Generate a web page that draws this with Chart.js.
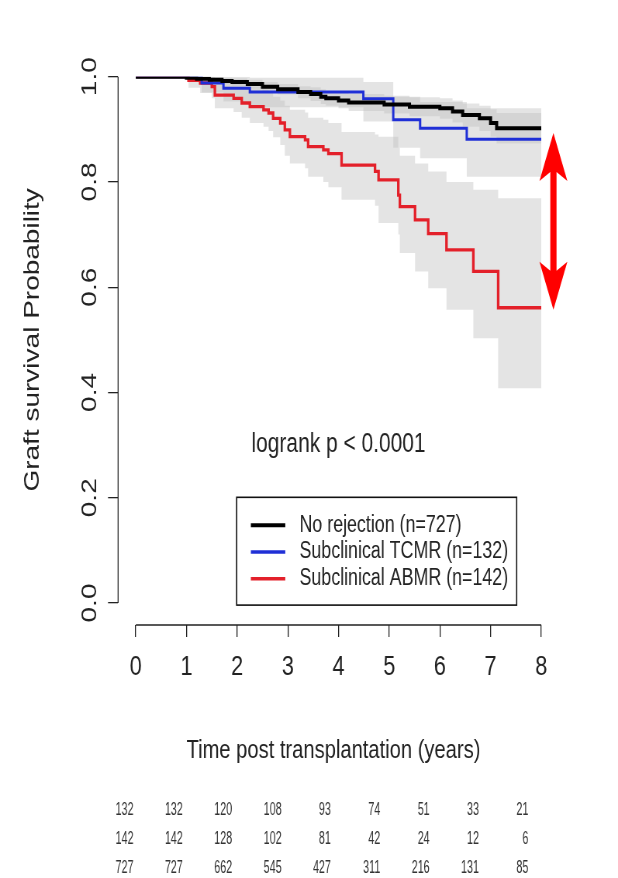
<!DOCTYPE html>
<html lang="en">
<head>
  <meta charset="UTF-8" />
  <title>Graft survival</title>
  <script src="https://cdn.jsdelivr.net/npm/chart.js"></script>
  <style>
    html, body { margin: 0; padding: 0; background: #fff; }
  </style>
</head>
<body>
  <!-- drawn wider and squeezed by css, the source picture is squeezed the same way -->
  <canvas id="km" width="797" height="878" style="width:618px;height:878px;display:block"></canvas>

  <script>
    const FONT = "'Liberation Sans', Arial, Helvetica, sans-serif";
    const INK = '#222';

    const xTicks = [0, 1, 2, 3, 4, 5, 6, 7, 8];
    const yTicks = [0, 0.2, 0.4, 0.6, 0.8, 1.0];

    const groupLabels = ['No rejection (n=727)', 'Subclinical TCMR (n=132)', 'Subclinical ABMR (n=142)'];
    const groupColors = ['#000000', '#1f2fd6', '#e3202a'];

    // No rejection
    const noRejTime  = [0, 1.0, 1.2, 1.45, 1.7, 1.9, 2.2, 2.5, 2.8, 3.2, 3.45, 3.65, 3.75, 4.0, 4.2, 4.9, 5.4, 6.0, 6.25, 6.45, 6.78, 7.0, 7.12, 8.0];
    const noRejSurv  = [1.0, 0.998, 0.996, 0.994, 0.992, 0.990, 0.986, 0.981, 0.976, 0.971, 0.967, 0.962, 0.959, 0.955, 0.951, 0.947, 0.943, 0.940, 0.934, 0.927, 0.921, 0.912, 0.902, 0.902];
    const noRejLower = [1.0, 0.995, 0.992, 0.989, 0.986, 0.983, 0.978, 0.972, 0.966, 0.959, 0.954, 0.948, 0.945, 0.940, 0.935, 0.930, 0.925, 0.920, 0.913, 0.905, 0.897, 0.886, 0.873, 0.873];
    const noRejUpper = [1.0, 1.0, 1.0, 0.999, 0.998, 0.997, 0.994, 0.990, 0.986, 0.982, 0.980, 0.976, 0.973, 0.970, 0.967, 0.964, 0.961, 0.959, 0.955, 0.949, 0.945, 0.938, 0.931, 0.931];

    // Subclinical TCMR
    const tcmrTime  = [0, 1.3, 1.73, 2.25, 4.49, 5.08, 5.61, 6.53, 8.0];
    const tcmrSurv  = [1.0, 0.988, 0.978, 0.971, 0.958, 0.918, 0.902, 0.881, 0.881];
    const tcmrLower = [1.0, 0.970, 0.953, 0.942, 0.915, 0.865, 0.845, 0.810, 0.810];
    const tcmrUpper = [1.0, 1.0, 1.0, 0.998, 0.990, 0.962, 0.952, 0.940, 0.940];

    // Subclinical ABMR
    const abmrTime  = [0, 1.04, 1.27, 1.5, 1.56, 1.93, 2.09, 2.25, 2.52, 2.62, 2.71, 2.85, 2.94, 3.04, 3.34, 3.4, 3.7, 3.8, 4.06, 4.72, 4.79, 5.18, 5.21, 5.51, 5.77, 6.13, 6.66, 7.15, 8.0];
    const abmrSurv  = [1.0, 0.993, 0.988, 0.981, 0.965, 0.959, 0.950, 0.943, 0.937, 0.931, 0.921, 0.912, 0.899, 0.886, 0.880, 0.867, 0.861, 0.854, 0.832, 0.820, 0.804, 0.775, 0.753, 0.728, 0.702, 0.671, 0.630, 0.561, 0.561];
    const abmrLower = [1.0, 0.979, 0.969, 0.959, 0.940, 0.933, 0.922, 0.912, 0.905, 0.897, 0.885, 0.870, 0.850, 0.835, 0.826, 0.810, 0.800, 0.790, 0.766, 0.755, 0.722, 0.700, 0.665, 0.630, 0.598, 0.557, 0.503, 0.408, 0.408];
    const abmrUpper = [1.0, 1.0, 1.0, 1.0, 0.995, 0.990, 0.985, 0.980, 0.975, 0.970, 0.962, 0.955, 0.945, 0.937, 0.932, 0.922, 0.918, 0.912, 0.895, 0.890, 0.886, 0.865, 0.850, 0.835, 0.820, 0.800, 0.785, 0.769, 0.769];

    // numbers at risk, rows as printed under the plot
    const tcmrRisk  = [132, 132, 120, 108, 93, 74, 51, 33, 21];
    const abmrRisk  = [142, 142, 128, 102, 81, 42, 24, 12, 6];
    const noRejRisk = [727, 727, 662, 545, 427, 311, 216, 131, 85];

    const pValueText = 'logrank p < 0.0001';
    const xTitle = 'Time post transplantation (years)';
    const yTitle = 'Graft survival Probability';

    // red double arrow between the black and red end values
    const arrowX = 8.24;
    const arrowTop = 0.893;
    const arrowBottom = 0.557;

    const BAND = 'rgba(190, 190, 190, 0.42)';

    function pts(time, vals) {
      return time.map((t, i) => ({ x: t, y: vals[i] }));
    }

    function curve(label, time, surv, color, width) {
      return {
        label, data: pts(time, surv), borderColor: color, borderWidth: width,
        stepped: 'before', pointRadius: 0, fill: false
      };
    }

    function band(time, vals, fill) {
      return {
        data: pts(time, vals), borderWidth: 0, borderColor: 'rgba(0,0,0,0)',
        backgroundColor: BAND, stepped: 'before', pointRadius: 0, fill
      };
    }

    const decor = {
      id: 'decor',
      afterDraw(chart) {
        const { ctx, chartArea: a, scales: { x, y } } = chart;
        ctx.save();

        // R style axes, only as long as the tick range
        ctx.strokeStyle = INK;
        ctx.lineWidth = 1.3;
        ctx.beginPath();
        ctx.moveTo(a.left, y.getPixelForValue(yTicks[0]));
        ctx.lineTo(a.left, y.getPixelForValue(yTicks[yTicks.length - 1]));
        ctx.moveTo(x.getPixelForValue(xTicks[0]), a.bottom);
        ctx.lineTo(x.getPixelForValue(xTicks[xTicks.length - 1]), a.bottom);
        ctx.stroke();

        // y tick labels turned up
        ctx.fillStyle = INK;
        ctx.font = `28px ${FONT}`;
        ctx.textAlign = 'center';
        ctx.textBaseline = 'middle';
        yTicks.forEach(v => {
          ctx.save();
          ctx.translate(a.left - 36, y.getPixelForValue(v));
          ctx.rotate(-Math.PI / 2);
          ctx.fillText(v.toFixed(1), 0, 0);
          ctx.restore();
        });

        // y title
        ctx.save();
        ctx.translate(a.left - 110, (y.getPixelForValue(0) + y.getPixelForValue(1)) / 2);
        ctx.rotate(-Math.PI / 2);
        ctx.fillText(yTitle, 0, 0);
        ctx.restore();

        // x title
        ctx.font = `26px ${FONT}`;
        ctx.textBaseline = 'alphabetic';
        ctx.fillText(xTitle, x.getPixelForValue(3.9), a.bottom + 133);

        // p value
        ctx.font = `27px ${FONT}`;
        ctx.fillText(pValueText, x.getPixelForValue(4), y.getPixelForValue(0.2875));

        // legend box
        const lx1 = x.getPixelForValue(1.99), lx2 = x.getPixelForValue(7.515);
        const ly1 = y.getPixelForValue(0.2008), ly2 = y.getPixelForValue(-0.004);
        ctx.lineWidth = 1.6;
        ctx.strokeStyle = '#111';
        ctx.strokeRect(lx1, ly1, lx2 - lx1, ly2 - ly1);
        const curves = chart.data.datasets.filter(d => d.label);
        ctx.font = `23px ${FONT}`;
        ctx.textAlign = 'left';
        ctx.textBaseline = 'middle';
        curves.forEach((d, i) => {
          const ry = ly1 + 28 + i * 26.7;
          ctx.strokeStyle = d.borderColor;
          ctx.lineWidth = i === 0 ? 4 : 3.4;
          ctx.beginPath();
          ctx.moveTo(x.getPixelForValue(2.27), ry);
          ctx.lineTo(x.getPixelForValue(2.95), ry);
          ctx.stroke();
          ctx.fillStyle = INK;
          ctx.fillText(d.label, x.getPixelForValue(3.23), ry);
        });

        // number at risk table
        ctx.font = `18px ${FONT}`;
        ctx.textAlign = 'right';
        ctx.fillStyle = '#333';
        [tcmrRisk, abmrRisk, noRejRisk].forEach((row, r) => {
          const ry = a.bottom + 185 + r * 29;
          row.forEach((n, i) => {
            ctx.save();
            ctx.translate(x.getPixelForValue(xTicks[i] * 0.974) - 3, ry);
            ctx.scale(0.77, 1);
            ctx.fillText(String(n), 0, 0);
            ctx.restore();
          });
        });

        // double arrow
        const ax = x.getPixelForValue(arrowX);
        const yt = y.getPixelForValue(arrowTop), yb = y.getPixelForValue(arrowBottom);
        const head = 48, half = 18, shaft = 4;
        ctx.fillStyle = '#ff0000';
        ctx.beginPath();
        ctx.moveTo(ax, yt);
        ctx.lineTo(ax + half, yt + head);
        ctx.lineTo(ax + shaft, yt + head - 9);
        ctx.lineTo(ax + shaft, yb - head + 9);
        ctx.lineTo(ax + half, yb - head);
        ctx.lineTo(ax, yb);
        ctx.lineTo(ax - half, yb - head);
        ctx.lineTo(ax - shaft, yb - head + 9);
        ctx.lineTo(ax - shaft, yt + head - 9);
        ctx.lineTo(ax - half, yt + head);
        ctx.closePath();
        ctx.fill();

        ctx.restore();
      }
    };

    Chart.defaults.font.family = FONT;

    new Chart(document.getElementById('km'), {
      type: 'line',
      data: {
        datasets: [
          curve(groupLabels[0], noRejTime, noRejSurv, groupColors[0], 4),
          curve(groupLabels[1], tcmrTime, tcmrSurv, groupColors[1], 3),
          curve(groupLabels[2], abmrTime, abmrSurv, groupColors[2], 3.3),
          band(noRejTime, noRejLower, '+1'),
          band(noRejTime, noRejUpper, false),
          band(tcmrTime, tcmrLower, '+1'),
          band(tcmrTime, tcmrUpper, false),
          band(abmrTime, abmrLower, '+1'),
          band(abmrTime, abmrUpper, false)
        ]
      },
      options: {
        responsive: false,
        animation: false,
        layout: { padding: { top: 76.7, right: 99, bottom: 113, left: 0 } },
        plugins: {
          legend: { display: false },
          tooltip: { enabled: false }
        },
        scales: {
          x: {
            type: 'linear',
            min: -0.349,
            max: 8,
            afterBuildTicks: s => { s.ticks = xTicks.map(v => ({ value: v })); },
            afterFit: s => { s.height = 140; },
            border: { display: false },
            grid: { drawOnChartArea: false, tickLength: 12, color: INK, lineWidth: 1.3 },
            ticks: { autoSkip: false, maxRotation: 0, padding: 13, color: INK, font: { size: 28 } }
          },
          y: {
            min: -0.0418,
            max: 1.0,
            afterBuildTicks: s => { s.ticks = yTicks.map(v => ({ value: v })); },
            afterFit: s => { s.width = 152.3; },
            border: { display: false },
            grid: { drawOnChartArea: false, tickLength: 13, color: INK, lineWidth: 1.3 },
            ticks: { display: false }
          }
        }
      },
      plugins: [decor]
    });
  </script>
</body>
</html>
